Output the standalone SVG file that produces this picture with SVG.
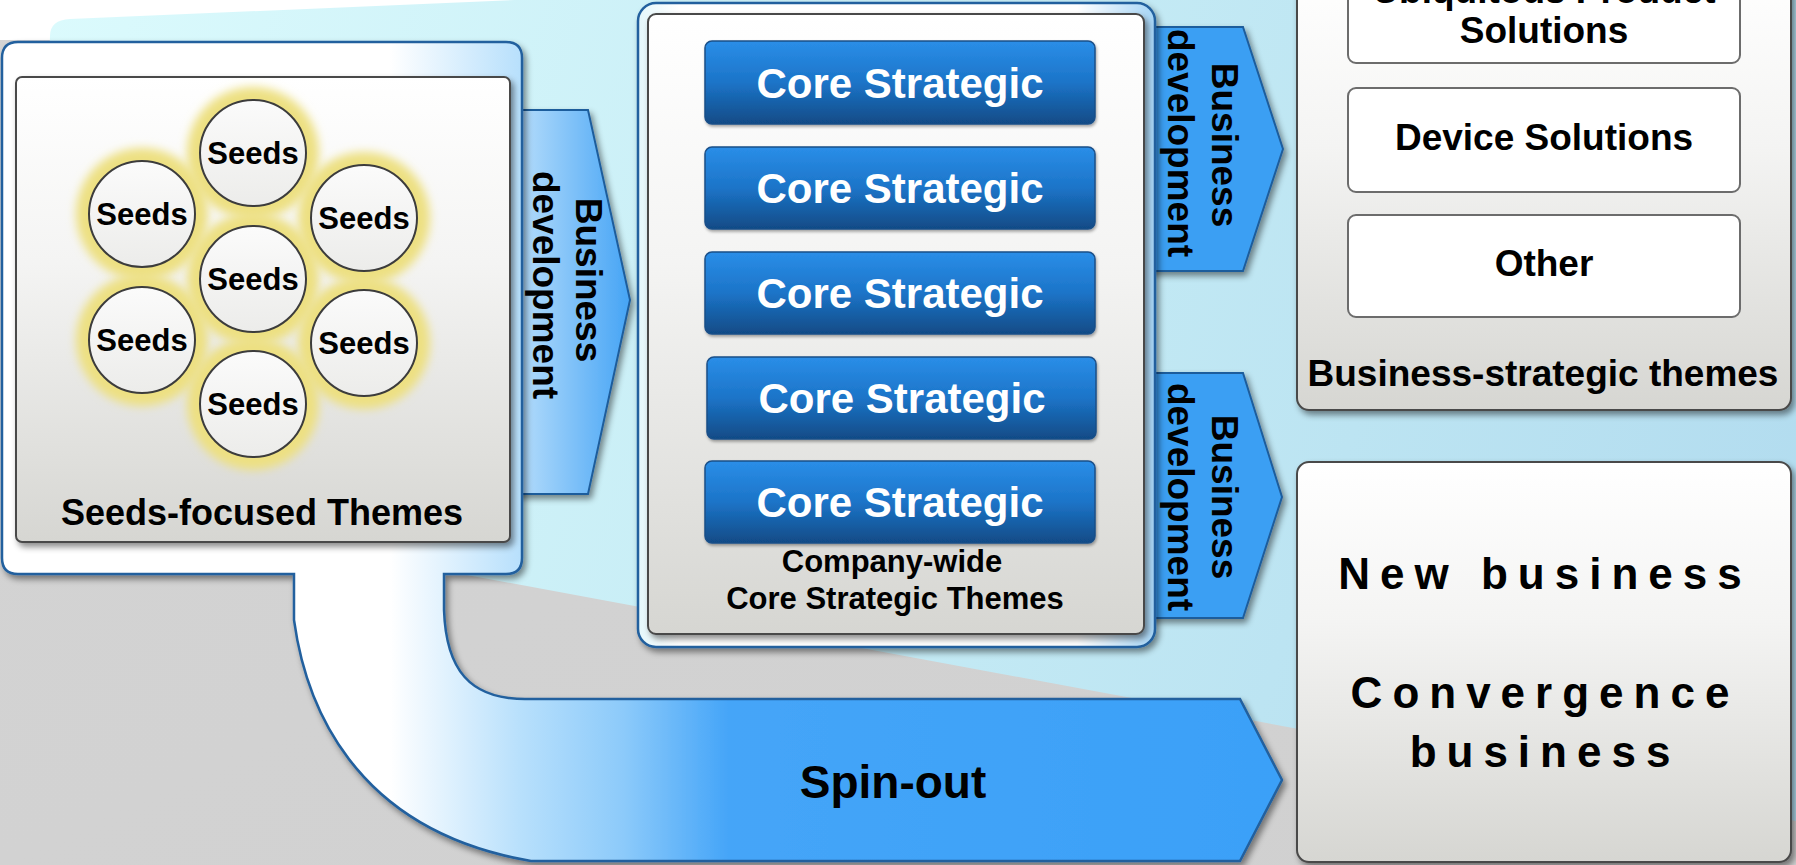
<svg xmlns="http://www.w3.org/2000/svg" width="1796" height="865" viewBox="0 0 1796 865">
<defs>
<style>
text{font-family:"Liberation Sans",Arial,sans-serif;font-weight:bold;fill:#000}
.lbl{text-anchor:middle}
.core{fill:#fff;font-size:42px;text-anchor:middle}
.seed{font-size:31px;text-anchor:middle}
.bd{font-size:37px;text-anchor:middle}
.gbox{fill:url(#gGray);stroke:#4a4a4a;stroke-width:2;filter:url(#sh)}
.wbox{fill:#fff;stroke:#6c6c6c;stroke-width:2}
.btn{fill:url(#gBtn);stroke:#1b4f88;stroke-width:1.5;filter:url(#shs)}
.circ{fill:url(#gCirc);stroke:#3c3c3c;stroke-width:2}
.glow{fill:#ede082;filter:url(#blur)}
.arr{stroke:#1f5d9c;stroke-width:2;filter:url(#sh)}
.frame{stroke:#22609e;stroke-width:2.5;filter:url(#sh)}
.sp{font-size:44px;letter-spacing:10px;text-anchor:middle}
</style>
<linearGradient id="gBg" x1="0" y1="0" x2="1" y2="1">
<stop offset="0" stop-color="#d4d4d4"/><stop offset="1" stop-color="#d0d0d0"/>
</linearGradient>
<linearGradient id="gCyan" gradientUnits="userSpaceOnUse" x1="0" y1="0" x2="1796" y2="600">
<stop offset="0" stop-color="#dcfbfd"/><stop offset="0.5" stop-color="#c6ecf5"/><stop offset="1" stop-color="#b2dcef"/>
</linearGradient>
<linearGradient id="gGray" x1="0" y1="0" x2="0" y2="1">
<stop offset="0" stop-color="#ffffff"/><stop offset="0.4" stop-color="#f4f4f3"/><stop offset="1" stop-color="#d6d6d2"/>
</linearGradient>
<linearGradient id="gBtn" x1="0" y1="0" x2="0" y2="1">
<stop offset="0" stop-color="#2a8ee8"/><stop offset="0.5" stop-color="#1c74c8"/><stop offset="1" stop-color="#114b86"/>
</linearGradient>
<linearGradient id="gCirc" x1="0" y1="0" x2="0" y2="1">
<stop offset="0" stop-color="#fbfbfb"/><stop offset="1" stop-color="#ececea"/>
</linearGradient>
<linearGradient id="gSpin" gradientUnits="userSpaceOnUse" x1="0" y1="0" x2="1300" y2="0">
<stop offset="0" stop-color="#ffffff"/><stop offset="0.3" stop-color="#ffffff"/><stop offset="0.4" stop-color="#b8e0fc"/><stop offset="0.48" stop-color="#8ccafa"/><stop offset="0.56" stop-color="#45a5f8"/><stop offset="1" stop-color="#3aa0f8"/>
</linearGradient>
<linearGradient id="gMid" x1="0" y1="0" x2="1" y2="0">
<stop offset="0" stop-color="#e4f7fb"/><stop offset="0.08" stop-color="#ffffff"/><stop offset="0.85" stop-color="#ffffff"/><stop offset="1" stop-color="#a6d5f6"/>
</linearGradient>
<linearGradient id="gArrL" gradientUnits="userSpaceOnUse" x1="520" y1="0" x2="630" y2="0">
<stop offset="0" stop-color="#b4dcfb"/><stop offset="1" stop-color="#45a4f5"/>
</linearGradient>
<filter id="sh" x="-10%" y="-10%" width="125%" height="125%">
<feDropShadow dx="3" dy="4" stdDeviation="3" flood-color="#000" flood-opacity="0.45"/>
</filter>
<filter id="shs" x="-10%" y="-20%" width="125%" height="150%">
<feDropShadow dx="1" dy="2" stdDeviation="1.5" flood-color="#000" flood-opacity="0.35"/>
</filter>
<filter id="blur" x="-30%" y="-30%" width="160%" height="160%">
<feGaussianBlur stdDeviation="5"/>
</filter>
</defs>

<g id="background">
<rect x="0" y="0" width="1796" height="865" fill="url(#gBg)"/>
<rect x="0" y="0" width="1796" height="40" fill="#ffffff"/>
<path d="M50,36 Q50,20 70,19 L515,0 L1796,0 L1796,821 L35,495 Z" fill="url(#gCyan)"/>
</g>

<g id="connectors">
<path id="bd-left" class="arr" d="M500,110 L588,110 L630,300 L588,494 L500,494 Z" fill="url(#gArrL)"/>
<path id="bd-right-top" class="arr" d="M1130,27 L1243,27 L1283,149 L1243,271 L1130,271 Z" fill="#3b9ff3"/>
<path id="bd-right-bottom" class="arr" d="M1130,373 L1243,373 L1282,497 L1243,618 L1130,618 Z" fill="#3b9ff3"/>
<path id="spin-out" class="frame" fill="url(#gSpin)" d="M2,58 Q2,42 18,42 L506,42 Q522,42 522,58 L522,558 Q522,574 506,574 L444,574 L444,610 C446,670 470,699 525,699 L1240,699 L1282,780 L1240,861 L531,861 C350,830 305,700 294,620 L294,574 L18,574 Q2,574 2,558 Z"/>
</g>

<g id="seeds-themes">
<rect class="gbox" x="16" y="77" width="494" height="465" rx="6"/>
<g id="seed-glow">
<circle class="glow" cx="253" cy="153" r="66"/>
<circle class="glow" cx="142" cy="214" r="66"/>
<circle class="glow" cx="364" cy="218" r="66"/>
<circle class="glow" cx="253" cy="279" r="66"/>
<circle class="glow" cx="142" cy="340" r="66"/>
<circle class="glow" cx="364" cy="343" r="66"/>
<circle class="glow" cx="253" cy="404" r="66"/>
</g>
<g id="seed-1"><circle class="circ" cx="253" cy="153" r="53"/><text class="seed" x="253" y="164">Seeds</text></g>
<g id="seed-2"><circle class="circ" cx="142" cy="214" r="53"/><text class="seed" x="142" y="225">Seeds</text></g>
<g id="seed-3"><circle class="circ" cx="364" cy="218" r="53"/><text class="seed" x="364" y="229">Seeds</text></g>
<g id="seed-4"><circle class="circ" cx="253" cy="279" r="53"/><text class="seed" x="253" y="290">Seeds</text></g>
<g id="seed-5"><circle class="circ" cx="142" cy="340" r="53"/><text class="seed" x="142" y="351">Seeds</text></g>
<g id="seed-6"><circle class="circ" cx="364" cy="343" r="53"/><text class="seed" x="364" y="354">Seeds</text></g>
<g id="seed-7"><circle class="circ" cx="253" cy="404" r="53"/><text class="seed" x="253" y="415">Seeds</text></g>
<text class="lbl" x="262" y="525" font-size="36">Seeds-focused Themes</text>
</g>

<g id="core-themes">
<rect class="frame" x="638" y="3" width="517" height="644" rx="18" fill="url(#gMid)"/>
<rect class="gbox" x="648" y="14" width="496" height="620" rx="8"/>
<g id="core-1"><rect class="btn" x="705" y="41" width="390" height="83" rx="7"/><text class="core" x="900" y="98">Core Strategic</text></g>
<g id="core-2"><rect class="btn" x="705" y="147" width="390" height="82" rx="7"/><text class="core" x="900" y="203">Core Strategic</text></g>
<g id="core-3"><rect class="btn" x="705" y="252" width="390" height="82" rx="7"/><text class="core" x="900" y="308">Core Strategic</text></g>
<g id="core-4"><rect class="btn" x="707" y="357" width="389" height="82" rx="7"/><text class="core" x="902" y="413">Core Strategic</text></g>
<g id="core-5"><rect class="btn" x="705" y="461" width="390" height="82" rx="7"/><text class="core" x="900" y="517">Core Strategic</text></g>
<text class="lbl" x="892" y="572" font-size="31">Company-wide</text>
<text class="lbl" x="895" y="609" font-size="31">Core Strategic Themes</text>
</g>

<g id="business-strategic-themes">
<rect class="gbox" x="1297" y="-30" width="494" height="440" rx="12"/>
<g id="bs-ubiquitous"><rect class="wbox" x="1348" y="-20" width="392" height="83" rx="8"/>
<text class="lbl" x="1544" y="3" font-size="37">Ubiquitous Product</text>
<text class="lbl" x="1544" y="43" font-size="37">Solutions</text></g>
<g id="bs-device"><rect class="wbox" x="1348" y="88" width="392" height="104" rx="8"/>
<text class="lbl" x="1544" y="150" font-size="37">Device Solutions</text></g>
<g id="bs-other"><rect class="wbox" x="1348" y="215" width="392" height="102" rx="8"/>
<text class="lbl" x="1544" y="276" font-size="37">Other</text></g>
<text class="lbl" x="1543" y="386" font-size="37">Business-strategic themes</text>
</g>

<g id="new-business">
<rect class="gbox" x="1297" y="462" width="494" height="400" rx="12"/>
<text class="sp" x="1545" y="589">New business</text>
<text class="sp" x="1545" y="708">Convergence</text>
<text class="sp" x="1545" y="767">business</text>
</g>

<g id="connector-labels">
<text class="bd" transform="translate(576,280) rotate(90)">Business</text>
<text class="bd" transform="translate(533,285) rotate(90)">development</text>
<text class="bd" transform="translate(1212,145) rotate(90)">Business</text>
<text class="bd" transform="translate(1168,143) rotate(90)">development</text>
<text class="bd" transform="translate(1212,497) rotate(90)">Business</text>
<text class="bd" transform="translate(1168,497) rotate(90)">development</text>
<text class="lbl" x="893" y="798" font-size="46">Spin-out</text>
</g>
</svg>
